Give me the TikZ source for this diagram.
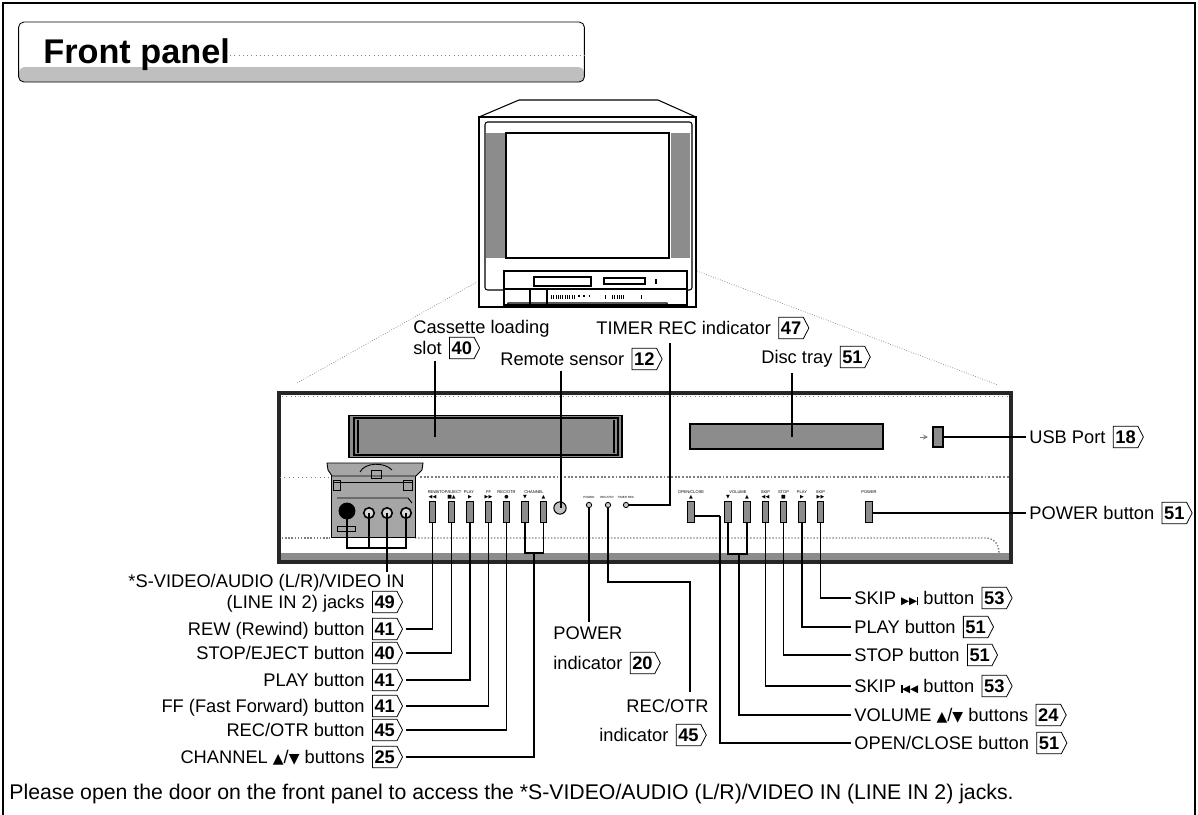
\documentclass[tikz,border=0pt]{standalone}
\usepackage{fontspec}
\setmainfont{Liberation Sans}
\newfontfamily\symfont{DejaVu Sans}
\usetikzlibrary{positioning,shapes.symbols}
\definecolor{halftone}{gray}{0.55}
\newcommand{\skipnext}{{\symfont\fontsize{6}{6}\selectfont ▶▶\kern-0.3pt\rule{0.9pt}{4.4pt}}}
\newcommand{\skipprev}{{\symfont\fontsize{6}{6}\selectfont \rule{0.9pt}{4.4pt}\kern-0.3pt◀◀}}
\newcommand{\updown}{{\symfont\fontsize{8}{8}\selectfont ▲}/{\symfont\fontsize{8}{8}\selectfont ▼}}
\tikzset{
  lab/.style={inner sep=0pt,font=\fontsize{10.4}{12}\selectfont,text height=9.4pt,text depth=2pt},
  pagetag/.style={signal,signal to=east,signal pointer angle=125,draw,line width=0.45pt,
    font=\fontsize{10.4}{12}\bfseries\selectfont,inner xsep=1.2pt,inner ysep=1pt,
    minimum height=12.2pt,text height=7.4pt,text depth=0pt},
  leader/.style={line width=0.75pt,shorten <=1.5pt},
  btn/.style={draw,fill=halftone,line width=0.4pt,inner sep=0pt,minimum width=3.6pt,minimum height=12pt},
  led/.style={circle,draw,fill=gray!40,line width=0.5pt,inner sep=0pt,minimum size=3pt},
  jack/.style={circle,draw,fill=gray!30,line width=0.9pt,inner sep=0pt,minimum size=6pt},
  tiny/.style={inner sep=0pt,align=center,font=\fontsize{2.3}{2.6}\selectfont},
  tinyled/.style={inner sep=0pt,align=center,font=\fontsize{1.7}{2}\selectfont},
  tinysym/.style={inner sep=0pt,font=\symfont\fontsize{2.8}{3}\selectfont}
}
\begin{document}
\begin{tikzpicture}[x=0.02cm,y=-0.02cm]
  \useasboundingbox (0,0) rectangle (1198,815);
  \fill[white] (0,0) rectangle (1198,815);
  \draw[line width=0.9pt] (3,815) -- (3,3) -- (1195,3) -- (1195,815);

  % title bar
  \fill[gray!50,rounded corners=3pt] (19,67) -- (584,67) -- (584,82) -- (19,82) -- cycle;
  \node[draw,line width=0.5pt,rounded corners=3pt,minimum width=566*0.569pt,minimum height=60*0.569pt,inner sep=0pt] (titlebox) at (301.5,52) {};
  \node[anchor=west,inner sep=0pt,font=\fontsize{19.5}{22}\bfseries\selectfont] (title) at (43,55) {Front panel};
  \draw[gray,dotted,line width=0.4pt] (title.east) -- (title.east -| titlebox.east);

  % television
  \begin{scope}[line width=0.6pt]
    \fill[halftone] (486,133) rectangle (505,258);
    \fill[halftone] (671,133) rectangle (690,258);
    \draw (479,117) -- (519,100) -- (658,100) -- (696,117);
    \draw[line width=0.9pt] (479,117) rectangle (696,307);
    \draw[rounded corners=1.5pt] (485,122) rectangle (692,290);
    \draw[line width=0.8pt] (506,133) rectangle (669,258);
    \draw[fill=white,line width=0.8pt] (504,271) rectangle (687,305);
    \draw (504,289) -- (687,289);
    \draw (530,289) -- (530,305);
    \draw (547,289) -- (547,305);
    \draw[line width=1.2pt] (534,277) rectangle (591,286);
    \draw (604,278) rectangle (645,284);
    \draw[line width=1pt] (656,279) -- (656,284);
    \draw[line width=2.8pt,dash pattern=on 0.6pt off 0.7pt] (551,297) -- (576,297);
    \draw[line width=1pt,dash pattern=on 1pt off 2pt] (578,296) -- (593,296);
    \draw[line width=2.8pt,dash pattern=on 0.8pt off 0.9pt] (605,297) -- (607,297);
    \draw[line width=2.8pt,dash pattern=on 0.6pt off 0.7pt] (612,297) -- (624,297);
    \draw[line width=2.8pt] (641,297) -- (642,297);
    \draw (507,306) -- (508,303) -- (667,303) -- (668,306);
  \end{scope}
  \draw[gray,densely dotted,line width=0.4pt] (297,383) -- (477,282);
  \draw[gray,densely dotted,line width=0.4pt] (697,271) -- (998,385);

  % panel
  \fill[halftone] (280,553) rectangle (1011,561);
  \draw[black!85,line width=2.2pt] (279,393) rectangle (1011,562);
  \draw[gray,dotted,line width=0.5pt] (282,396) -- (1008,396);
  \draw[gray,dotted,line width=0.5pt] (280,477) -- (330,477);
  \draw[gray,densely dotted,line width=1.1pt] (420,477) -- (1009,477);
  \draw[gray,densely dotted,line width=0.8pt] (282,538) -- (330,538);
  \draw[gray,densely dotted,line width=0.8pt] (415,538) -- (985,538) .. controls (994,538) and (999,544) .. (999,553);

  \node[draw,fill=halftone,line width=1pt,inner sep=0pt,minimum width=155pt,minimum height=24pt] (slot) at (485.5,436.5) {};
  \draw[line width=0.6pt] (354,418) rectangle (618,455);
  \draw[line width=0.6pt] (358,420) -- (358,453);
  \draw[line width=0.6pt] (614,420) -- (614,453);
  \node[draw,fill=halftone,line width=0.7pt,inner sep=0pt,minimum width=109.8pt,minimum height=14.2pt] (tray) at (786.5,436.5) {};
  \node[draw,fill=halftone,line width=0.6pt,inner sep=0pt,minimum width=5.7pt,minimum height=11.4pt] (usb) at (938,437) {};
  \draw[gray,-stealth,line width=0.3pt] (920,437) -- (928,437);

  % door
  \begin{scope}[line width=0.5pt]
    \draw[fill=gray!70] (331,470) rectangle (415,537);
    \draw[fill=gray!70] (327,463) -- (423,463) -- (422,470) -- (416,476) -- (332,476) -- (328,470) -- cycle;
    \draw (360,472) .. controls (365,462) and (385,462) .. (392,470);
    \draw (371,470) rectangle (381,478);
    \draw (333,480) rectangle (340,490);
    \draw (403,480) rectangle (412,490);
    \draw (333,482) -- (413,482);
    \draw (337,498) -- (408,498) -- (412,503);
    \draw (337,526) rectangle (355,531);
  \end{scope}
  \node[circle,fill=black,inner sep=0pt,minimum size=9.6pt] (svideo) at (347,511) {};
  \node[jack] (audiol) at (369,513) {};
  \node[jack] (audior) at (387,513) {};
  \node[jack] (videoin) at (406,513) {};

  % buttons, left
  \node[btn] (rew) at (432.5,511.5) {};
  \node[btn] (stopej) at (451.5,511.5) {};
  \node[btn] (play) at (470,511.5) {};
  \node[btn] (ff) at (488.5,511.5) {};
  \node[btn] (rec) at (506.5,511.5) {};
  \node[btn] (chdown) at (525,511.5) {};
  \node[btn] (chup) at (543.5,511.5) {};
  \node[circle,draw,fill=gray!50,line width=0.6pt,inner sep=0pt,minimum size=7pt] (sensor) at (560,508) {};
  \node[led] (ledpower) at (589,505) {};
  \node[led] (ledrec) at (608,505) {};
  \node[led] (ledtimer) at (626,505) {};

  % buttons, right
  \node[btn] (open) at (691,511.5) {};
  \node[btn] (voldown) at (728,511.5) {};
  \node[btn] (volup) at (747,511.5) {};
  \node[btn] (skipb) at (765.5,511.5) {};
  \node[btn] (stopd) at (783.5,511.5) {};
  \node[btn] (playd) at (802,511.5) {};
  \node[btn] (skipf) at (820.5,511.5) {};
  \node[btn] (powerbtn) at (869,511.5) {};

  % small print on the panel
  \node[tiny] (trew) at (432.5,492.5) {REW};
  \node[tiny] (tstopej) at (449,492.5) {STOP/EJECT};
  \node[tiny] (tplay) at (469,492.5) {PLAY};
  \node[tiny] (tff) at (488.5,492.5) {FF};
  \node[tiny] (trec) at (506.5,492.5) {REC/OTR};
  \node[tiny] (tch) at (534,492.5) {CHANNEL};
  \node[tinysym] (srew) at (432.5,497) {◀◀};
  \node[tinysym] (sstopej) at (451.5,497) {■▲};
  \node[tinysym] (splay) at (470,497) {▶};
  \node[tinysym] (sff) at (488.5,497) {▶▶};
  \node[tinysym] (srec) at (506.5,497) {●};
  \node[tinysym] (schd) at (525,497) {▼};
  \node[tinysym] (schu) at (543.5,497) {▲};
  \node[tinyled] (tledp) at (589,497) {POWER};
  \node[tinyled] (tledr) at (607,497) {REC/OTR};
  \node[tinyled] (tledt) at (626,497) {TIMER REC};
  \node[tiny] (topen) at (691,492.5) {OPEN/CLOSE};
  \node[tinysym] (sopen) at (691,497) {▲};
  \node[tiny] (tvol) at (738,492.5) {VOLUME};
  \node[tinysym] (svd) at (728,497) {▼};
  \node[tinysym] (svu) at (747,497) {▲};
  \node[tiny] (tskb) at (765.5,492.5) {SKIP};
  \node[tinysym] (sskb) at (765.5,497) {◀◀};
  \node[tiny] (tstd) at (783.5,492.5) {STOP};
  \node[tinysym] (sstd) at (783.5,497) {■};
  \node[tiny] (tpld) at (802,492.5) {PLAY};
  \node[tinysym] (spld) at (802,497) {▶};
  \node[tiny] (tskf) at (820.5,492.5) {SKIP};
  \node[tinysym] (sskf) at (820.5,497) {▶▶};
  \node[tiny] (tpow) at (869,492.5) {POWER};

  % labels on top
  \node[lab,anchor=west] (cassettelab) at (413,327) {Cassette loading};
  \node[lab,anchor=west] (slotlab) at (413,348) {slot};
  \node[pagetag,right=4pt of slotlab] (slottag) {40};
  \node[lab,anchor=west] (remotelab) at (500,359) {Remote sensor};
  \node[pagetag,right=4pt of remotelab] (remotetag) {12};
  \node[lab,anchor=west] (timerlab) at (596,328) {TIMER REC indicator};
  \node[pagetag,right=4pt of timerlab] (timertag) {47};
  \node[lab,anchor=west] (disclab) at (761,357) {Disc tray};
  \node[pagetag,right=4pt of disclab] (disctag) {51};
  \node[lab,anchor=west] (usblab) at (1029,437) {USB Port};
  \node[pagetag,right=4pt of usblab] (usbtag) {18};
  \node[lab,anchor=west] (powerbtnlab) at (1029,513) {POWER button};
  \node[pagetag,right=4pt of powerbtnlab] (powerbtntag) {51};

  % labels on the left
  \node[lab,anchor=east] (jackslab) at (405,581) {*S-VIDEO/AUDIO (L/R)/VIDEO IN};
  \node[lab,anchor=east] (jackslabb) at (365,602) {(LINE IN 2) jacks};
  \node[pagetag,right=4pt of jackslabb] (jackstag) {49};
  \node[lab,anchor=east] (rewlab) at (365,629) {REW (Rewind) button};
  \node[pagetag,right=4pt of rewlab] (rewtag) {41};
  \node[lab,anchor=east] (stoplab) at (365,653) {STOP/EJECT button};
  \node[pagetag,right=4pt of stoplab] (stoptag) {40};
  \node[lab,anchor=east] (playlab) at (365,680) {PLAY button};
  \node[pagetag,right=4pt of playlab] (playtag) {41};
  \node[lab,anchor=east] (fflab) at (365,706) {FF (Fast Forward) button};
  \node[pagetag,right=4pt of fflab] (fftag) {41};
  \node[lab,anchor=east] (reclab) at (365,730) {REC/OTR button};
  \node[pagetag,right=4pt of reclab] (rectag) {45};
  \node[lab,anchor=east] (chlab) at (365,757) {CHANNEL \updown{} buttons};
  \node[pagetag,right=4pt of chlab] (chtag) {25};

  % labels in the middle
  \node[lab,anchor=west] (ledpowerlab) at (553,633) {POWER};
  \node[lab,anchor=west] (ledpowerlabb) at (553,663) {indicator};
  \node[pagetag,right=4pt of ledpowerlabb] (ledpowertag) {20};
  \node[lab,anchor=east] (ledreclab) at (709,706) {REC/OTR};
  \node[lab,anchor=west] (ledreclabb) at (599,735) {indicator};
  \node[pagetag,right=4pt of ledreclabb] (ledrectag) {45};

  % labels on the right
  \node[lab,anchor=west] (skipflab) at (854,598) {SKIP \skipnext{} button};
  \node[pagetag,right=4pt of skipflab] (skipftag) {53};
  \node[lab,anchor=west] (playdlab) at (854,627) {PLAY button};
  \node[pagetag,right=4pt of playdlab] (playdtag) {51};
  \node[lab,anchor=west] (stopdlab) at (854,655) {STOP button};
  \node[pagetag,right=4pt of stopdlab] (stopdtag) {51};
  \node[lab,anchor=west] (skipblab) at (854,686) {SKIP \skipprev{} button};
  \node[pagetag,right=4pt of skipblab] (skipbtag) {53};
  \node[lab,anchor=west] (vollab) at (854,715) {VOLUME \updown{} buttons};
  \node[pagetag,right=4pt of vollab] (voltag) {24};
  \node[lab,anchor=west] (openlab) at (854,743) {OPEN/CLOSE button};
  \node[pagetag,right=4pt of openlab] (opentag) {51};

  \node[lab,anchor=west,font=\fontsize{12.1}{14}\selectfont] (note) at (9,793) {Please open the door on the front panel to access the *S-VIDEO/AUDIO (L/R)/VIDEO IN (LINE IN 2) jacks.};

  % free ends and bends
  \coordinate (slotup) at (435,361);
  \coordinate (remoteup) at (561,371);
  \coordinate (timerup) at (670,343);
  \coordinate (discup) at (792,373);
  \coordinate (jackbar) at (387,548);
  \coordinate (jackend) at (387,572);
  \coordinate (chbar) at (534,553);
  \coordinate (volbar) at (739,554);
  \coordinate (openbend) at (720,516);
  \coordinate (ledpowerend) at (589,622);
  \coordinate (ledrecbend) at (690,582);
  \coordinate (ledrecend) at (690,692);

  % leaders
  \draw[line width=0.75pt] (slotup) -- (slotup |- slot.center);
  \draw[line width=0.75pt] (remoteup) -- (remoteup |- sensor.center);
  \draw[line width=0.75pt] (timerup) |- (ledtimer.east);
  \draw[line width=0.75pt] (discup) -- (discup |- tray.center);
  \draw[line width=0.9pt] (usb.east) -- ([xshift=-1.5pt]usblab.west);
  \draw[line width=0.75pt] (powerbtn.east |- powerbtnlab) -- ([xshift=-1.5pt]powerbtnlab.west);

  \draw[line width=0.75pt] (svideo.center) |- (videoin |- jackbar) -- (videoin.center);
  \draw[line width=0.75pt] (audiol.center) -- (audiol |- jackbar);
  \draw[line width=0.75pt] (audior.center) -- (jackend);

  \draw[leader] (rewtag.east) -| (rew.south);
  \draw[leader] (stoptag.east) -| (stopej.south);
  \draw[leader] (playtag.east) -| (play.south);
  \draw[leader] (fftag.east) -| (ff.south);
  \draw[leader] (rectag.east) -| (rec.south);
  \draw[leader] (chtag.east) -| (chbar);
  \draw[line width=0.75pt] (chdown.south) |- (chbar) -| (chup.south);

  \draw[line width=0.75pt] (ledpower.south) -- (ledpowerend);
  \draw[line width=0.75pt] (ledrec.south) |- (ledrecbend) -- (ledrecend);

  \draw[line width=0.75pt,shorten >=1.5pt] (skipf.south) |- (skipflab.west);
  \draw[line width=0.75pt,shorten >=1.5pt] (playd.south) |- (playdlab.west);
  \draw[line width=0.75pt,shorten >=1.5pt] (stopd.south) |- (stopdlab.west);
  \draw[line width=0.75pt,shorten >=1.5pt] (skipb.south) |- (skipblab.west);
  \draw[line width=0.75pt] (voldown.south) |- (volbar) -| (volup.south);
  \draw[line width=0.75pt,shorten >=1.5pt] (volbar) |- (vollab.west);
  \draw[line width=0.75pt] (open.east |- openbend) -- (openbend);
  \draw[line width=0.75pt,shorten >=1.5pt] (openbend) |- (openlab.west);
\end{tikzpicture}
\end{document}
